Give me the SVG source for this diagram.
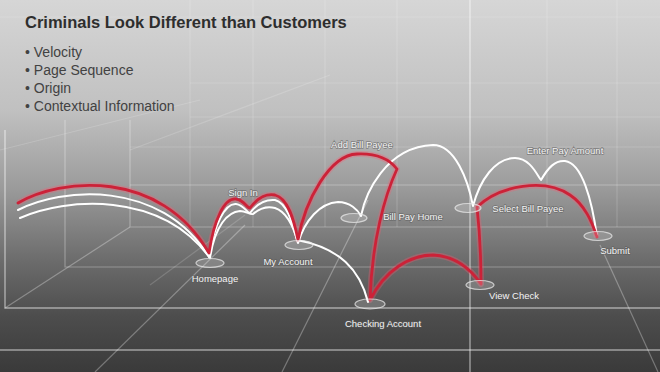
<svg xmlns="http://www.w3.org/2000/svg" width="660" height="372" viewBox="0 0 660 372">
<defs>
<linearGradient id="bg" x1="0" y1="0" x2="0" y2="1">
<stop offset="0" stop-color="#d6d6d6"/>
<stop offset="0.3" stop-color="#c0c0c0"/>
<stop offset="0.5" stop-color="#9c9c9c"/>
<stop offset="0.7" stop-color="#6c6c6c"/>
<stop offset="0.85" stop-color="#4d4d4d"/>
<stop offset="1" stop-color="#3a3a3a"/>
</linearGradient>
<style>
.g1{stroke:#ffffff;stroke-opacity:0.3;stroke-width:1.2;fill:none}
.g2{stroke:#ffffff;stroke-opacity:0.5;stroke-width:1.4;fill:none}
.g0{stroke:#ffffff;stroke-opacity:0.16;stroke-width:1.2;fill:none}
.title{font-family:"Liberation Sans",Arial,sans-serif;font-weight:bold;font-size:16.5px;fill:#2e2e2e}
.bul{font-family:"Liberation Sans",Arial,sans-serif;font-size:14px;fill:#424242}
.lbl{font-family:"Liberation Sans",Arial,sans-serif;font-size:9.5px;fill:#f4f4f4;stroke:#5a5a5a;stroke-opacity:0.6;stroke-width:1.4;paint-order:stroke;text-anchor:middle}
.pad{fill:#ffffff;fill-opacity:0.18;stroke:#e8e8e8;stroke-opacity:0.75;stroke-width:1.2}
.red{fill:none;stroke:#cc2238;stroke-width:2.8;stroke-linejoin:round;stroke-linecap:round}
.redglow{fill:none;stroke:#ff5a70;stroke-opacity:0.3;stroke-width:6;stroke-linejoin:round}
.wht{fill:none;stroke:#ffffff;stroke-width:2;stroke-linejoin:round;stroke-linecap:round}
</style>
</defs>
<rect x="0" y="0" width="660" height="372" fill="url(#bg)"/>

<g id="grid">
<line class="g0" x1="0" y1="17" x2="660" y2="17"/>
<line class="g0" x1="190" y1="83" x2="660" y2="83"/>
<line class="g0" x1="190" y1="117" x2="660" y2="117"/>
<line class="g0" x1="130" y1="147" x2="660" y2="147"/>
<line class="g1" x1="130" y1="185" x2="660" y2="185"/>
<line class="g0" x1="190" y1="0" x2="190" y2="227"/>
<line class="g0" x1="253" y1="0" x2="253" y2="227"/>
<line class="g0" x1="325" y1="0" x2="325" y2="227"/>
<line class="g0" x1="397" y1="0" x2="397" y2="227"/>
<line class="g0" x1="547" y1="0" x2="547" y2="227"/>
<line class="g0" x1="617" y1="0" x2="617" y2="227"/>
<line class="g0" x1="0" y1="150" x2="200" y2="100"/>
<line class="g0" x1="130" y1="150" x2="330" y2="75"/>
<polyline class="g1" points="130,120 130,227 660,227"/>
<polyline class="g1" points="65,120 65,267 660,267"/>
<polyline class="g2" points="5,130 5,308 660,308"/>
<line class="g2" x1="0" y1="350" x2="660" y2="350"/>
<line class="g1" x1="5" y1="308" x2="130" y2="227"/>
<line class="g2" x1="470" y1="0" x2="470" y2="372"/>
<line class="g1" x1="95" y1="372" x2="245" y2="225"/>
<line class="g1" x1="282" y1="372" x2="368" y2="200"/>
<line class="g1" x1="600" y1="245" x2="658" y2="372"/>
<line class="g0" x1="150" y1="285" x2="245" y2="215"/>
</g>

<g id="connectors">
<path class="redglow" d="M18,203 C60,178 160,168 209,253 C214,220 224,198 236,199 C244,200 247,208 250,208 C256,200 264,193 275,195 C288,198 294,220 298,240 C305,200 330,155 357,154 C378,153 390,160 397,169 C385,195 372,240 370,300 C385,270 410,255 433,255 C455,256 470,268 481,284 C481,255 479,225 477,207 C500,185 545,178 570,195 C585,205 592,222 597,237"/>
<path class="wht" d="M20,218 C65,198 160,190 210,258 C215,225 228,212 240,211 C246,211 250,215 253,214 C260,208 268,206 275,208 C287,212 294,228 298,243 C305,220 320,203 338,202 C350,202 358,210 361,216 C365,195 385,147 433,145 C455,145 468,180 473,206 C480,180 495,158 515,158 C530,158 537,175 541,180 C548,168 555,160 565,161 C582,163 592,200 597,237"/>
<path class="wht" d="M18,210 C60,188 160,178 209,257 C214,225 225,203 236,204 C244,205 247,213 250,213 C256,205 264,199 275,200 C287,203 292,222 297,240 C340,248 360,270 368,302"/>
<path class="red" d="M18,203 C60,178 160,168 209,253 C214,220 224,198 236,199 C244,200 247,208 250,208 C256,200 264,193 275,195 C288,198 294,220 298,240 C305,200 330,155 357,154 C378,153 390,160 397,169 C385,195 372,240 370,300 C385,270 410,255 433,255 C455,256 470,268 481,284 C481,255 479,225 477,207 C500,185 545,178 570,195 C585,205 592,222 597,237"/>
</g>

<g id="title">
<text class="title" x="25" y="28">Criminals Look Different than Customers</text>
<text class="bul" x="25" y="57">• Velocity</text>
<text class="bul" x="25" y="75">• Page Sequence</text>
<text class="bul" x="25" y="93">• Origin</text>
<text class="bul" x="25" y="111">• Contextual Information</text>
</g>

<g id="node-homepage"><ellipse class="pad" cx="210" cy="263" rx="14" ry="4.5"/><text class="lbl" x="215" y="282">Homepage</text></g>
<g id="node-signin"><text class="lbl" x="243" y="196">Sign In</text></g>
<g id="node-myaccount"><ellipse class="pad" cx="299" cy="245" rx="14" ry="4.5"/><text class="lbl" x="288" y="265">My Account</text></g>
<g id="node-addbillpayee"><text class="lbl" x="362" y="148">Add Bill Payee</text></g>
<g id="node-billpayhome"><ellipse class="pad" cx="354" cy="218" rx="13" ry="4.5"/><text class="lbl" x="413" y="220">Bill Pay Home</text></g>
<g id="node-enterpayamount"><text class="lbl" x="565" y="154">Enter Pay Amount</text></g>
<g id="node-selectbillpayee"><ellipse class="pad" cx="468" cy="208" rx="13" ry="4.5"/><text class="lbl" x="528" y="212">Select Bill Payee</text></g>
<g id="node-submit"><ellipse class="pad" cx="598" cy="236" rx="14" ry="4.5"/><text class="lbl" x="615" y="254">Submit</text></g>
<g id="node-viewcheck"><ellipse class="pad" cx="480" cy="285" rx="14" ry="4.5"/><text class="lbl" x="514" y="299">View Check</text></g>
<g id="node-checkingaccount"><ellipse class="pad" cx="370" cy="304" rx="15" ry="5"/><text class="lbl" x="383" y="327">Checking Account</text></g>
</svg>
